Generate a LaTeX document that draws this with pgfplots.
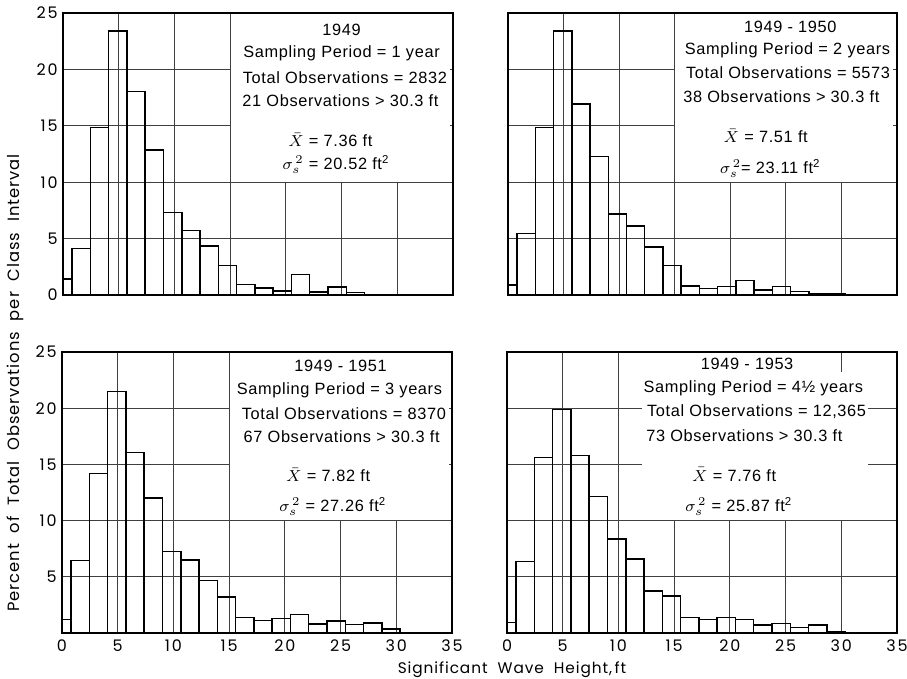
\documentclass[border=0pt]{standalone}
\usepackage{pgfplots}
\pgfplotsset{compat=1.18}
\usepackage{pgfplotstable}
\usepackage{fontspec}
\setmainfont{Liberation Sans}
\newfontfamily\tickfont[LetterSpace=12]{Poppins}
\newfontfamily\labfont[LetterSpace=6]{Poppins}
\newfontfamily\boxfont[LetterSpace=4]{Liberation Sans}

% class edges (0.5 m = 1.64 ft classes), percent per class
\pgfplotstableread{
x y
0 1.4
0.82 4.1
2.46 14.85
4.10 23.4
5.74 18.05
7.38 12.85
9.02 7.3
10.66 5.7
12.30 4.35
13.94 2.6
15.58 0.95
17.22 0.6
18.86 0.35
20.50 1.8
22.14 0.27
23.78 0.7
25.42 0.24
27.06 0
28.70 0
30.34 0
}\yrA
\pgfplotstableread{
x y
0 0.9
0.82 5.45
2.46 14.85
4.10 23.4
5.74 16.95
7.38 12.3
9.02 7.2
10.66 6.1
12.30 4.25
13.94 2.6
15.58 0.8
17.22 0.56
18.86 0.74
20.50 1.27
22.14 0.44
23.78 0.74
25.42 0.3
27.06 0.15
28.70 0.1
30.34 0
}\yrB
\pgfplotstableread{
x y
0 1.2
0.82 6.45
2.46 14.2
4.10 21.5
5.74 16.05
7.38 12.0
9.02 7.25
10.66 6.5
12.30 4.65
13.94 3.2
15.58 1.4
17.22 1.12
18.86 1.3
20.50 1.66
22.14 0.8
23.78 1.07
25.42 0.74
27.06 0.9
28.70 0.36
30.34 0
}\yrC
\pgfplotstableread{
x y
0 0.95
0.82 6.35
2.46 15.6
4.10 19.9
5.74 15.8
7.38 12.15
9.02 8.35
10.66 6.6
12.30 3.75
13.94 3.3
15.58 1.36
17.22 1.18
18.86 1.39
20.50 1.18
22.14 0.7
23.78 0.86
25.42 0.5
27.06 0.7
28.70 0.15
30.34 0
}\yrD

\pgfplotsset{
  hist/.style={
    scale only axis, width=195bp, height=141bp,
    anchor=south west, clip=false,
    xmin=0, xmax=35, ymin=0, ymax=25,
    xtick={0,5,...,35}, ytick={0,5,...,25},
    grid=major, major grid style={draw=black!75, line width=0.4pt},
    major tick length=0pt,
    axis line style={line width=0.6pt},
    tick label style={font=\tickfont\fontsize{8}{9}\selectfont},
    /pgf/number format/assume math mode=true,
    xticklabel style={inner sep=0pt, anchor=north, yshift=-3.2bp},
    yticklabel style={inner sep=0pt, anchor=east, xshift=-2.5bp},
  },
  bars/.style={ybar interval, draw=black, fill=none, line width=0.75pt},
}
\tikzset{note/.style={font=\boxfont\fontsize{8.2}{9}\selectfont, inner sep=0pt}}

\begin{document}
\begin{tikzpicture}
\useasboundingbox (0,0) rectangle (453.5bp,339.5bp);

% 1949
\begin{axis}[hist, at={(31.5bp,192bp)}, xticklabels={}]
\addplot[bars] table[x=x,y=y] {\yrA};
\fill[white] (axis cs:15.06,10.06) rectangle (axis cs:34.75,24.94);
\node[note] at (axis cs:25.0,23.5) {1949};
\node[note] at (axis cs:25.0,21.45) {Sampling Period = 1 year};
\node[note] at (axis cs:25.3,19.24) {Total Observations = 2832};
\node[note] at (axis cs:24.9,17.2) {21 Observations > 30.3 ft};
\node[note] at (axis cs:24.0,13.75) {$\bar{X}$ = 7.36 ft};
\node[note] at (axis cs:24.5,11.55) {$\sigma_s^{\,2}$ = 20.52 ft\textsuperscript{2}};
\end{axis}

% 1949 - 1950
\begin{axis}[hist, at={(254bp,192bp)}, width=194.5bp, xticklabels={}, yticklabels={}]
\addplot[bars] table[x=x,y=y] {\yrB};
\fill[white] (axis cs:15.06,10.06) rectangle (axis cs:34.6,24.94);
\node[note] at (axis cs:25.4,23.8) {1949 - 1950};
\node[note] at (axis cs:25.15,21.7) {Sampling Period = 2 years};
\node[note] at (axis cs:25.2,19.7) {Total Observations = 5573};
\node[note] at (axis cs:24.6,17.55) {38 Observations > 30.3 ft};
\node[note] at (axis cs:23.2,14.1) {$\bar{X}$ = 7.51 ft};
\node[note] at (axis cs:23.6,11.2) {$\sigma_s^{\,2}$= 23.11 ft\textsuperscript{2}};
\end{axis}

% 1949 - 1951
\begin{axis}[hist, at={(31bp,23bp)}, height=140.5bp, ytick={5,10,...,25}]
\addplot[bars] table[x=x,y=y] {\yrC};
\fill[white] (axis cs:15.06,10.06) rectangle (axis cs:34.75,24.94);
\node[note] at (axis cs:25.0,23.75) {1949 - 1951};
\node[note] at (axis cs:24.9,21.6) {Sampling Period = 3 years};
\node[note] at (axis cs:25.3,19.5) {Total Observations = 8370};
\node[note] at (axis cs:25.1,17.45) {67 Observations > 30.3 ft};
\node[note] at (axis cs:23.9,14.05) {$\bar{X}$ = 7.82 ft};
\node[note] at (axis cs:24.3,11.25) {$\sigma_s^{\,2}$ = 27.26 ft\textsuperscript{2}};
\end{axis}

% 1949 - 1953
\begin{axis}[hist, at={(253.5bp,23bp)}, height=140.5bp, yticklabels={}]
\addplot[bars] table[x=x,y=y] {\yrD};
\fill[white] (axis cs:12.1,10.06) rectangle (axis cs:29.9,24.94);
\fill[white] (axis cs:29.8,10.06) rectangle (axis cs:32.4,23.2);
\node[note] at (axis cs:21.55,23.9) {1949 - 1953};
\node[note] at (axis cs:22.1,21.8) {Sampling Period = 4½ years};
\node[note] at (axis cs:22.4,19.7) {Total Observations = 12,365};
\node[note] at (axis cs:21.3,17.6) {73 Observations > 30.3 ft};
\node[note] at (axis cs:20.4,14.1) {$\bar{X}$ = 7.76 ft};
\node[note] at (axis cs:20.8,11.25) {$\sigma_s^{\,2}$ = 25.87 ft\textsuperscript{2}};
\end{axis}

\node[rotate=90, inner sep=0pt, font=\labfont\fontsize{8.2}{9}\selectfont]
  at (7.8bp,148bp) {Percent\ \ of\ \ Total\ \ Observations\ \ per\ \ Class\ \ Interval};
\node[inner sep=0pt, anchor=base, font=\labfont\fontsize{7.7}{9}\selectfont]
  at (256bp,2.8bp) {Significant\ \ Wave\ \ Height,\,ft};
\end{tikzpicture}
\end{document}
